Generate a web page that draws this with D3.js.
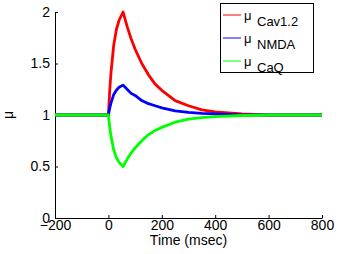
<!DOCTYPE html>
<html lang="en">
<head>
  <meta charset="UTF-8">
  <script src="https://d3js.org/d3.v7.min.js"></script>
  <style>
    body { margin: 0; background: white; }
    text { font-family: "Liberation Sans", Arial, sans-serif; }
    .axis path, .axis line { stroke: black; stroke-width: 1px; }
    .axis text { font-size: 14px; fill: black; }
  </style>
</head>
<body>
<div id="chart"></div>
<script>
  // time points (msec) and the three traces
  const times = [-200, 0, 5, 10, 20, 30, 40, 55, 70, 85, 100, 125, 150, 175, 200, 250, 300, 350, 400, 500, 600, 700, 800];
  const cav12 = [1, 1, 1.24, 1.42, 1.68, 1.83, 1.92, 2.0, 1.86, 1.74, 1.64, 1.50, 1.39, 1.30, 1.24, 1.14, 1.09, 1.05, 1.03, 1.01, 1.0, 1.0, 1.0];
  const nmda = [1, 1, 1.07, 1.12, 1.20, 1.24, 1.27, 1.29, 1.25, 1.21, 1.19, 1.14, 1.11, 1.09, 1.07, 1.04, 1.025, 1.015, 1.01, 1.0, 1.0, 1.0, 1.0];
  const caq = [1, 1, 0.88, 0.79, 0.66, 0.585, 0.54, 0.5, 0.57, 0.63, 0.68, 0.75, 0.81, 0.85, 0.88, 0.93, 0.96, 0.975, 0.985, 0.995, 1.0, 1.0, 1.0];

  const xTicks = [-200, 0, 200, 400, 600, 800];
  const yTicks = [0, 0.5, 1, 1.5, 2];

  const series = [
    { name: "Cav1.2", values: cav12, color: "#ff0000" },
    { name: "NMDA", values: nmda, color: "#0000ff" },
    { name: "CaQ", values: caq, color: "#00ff00" }
  ];

  const width = 340, height = 254;

  const svg = d3.select("#chart").append("svg")
    .attr("width", width)
    .attr("height", height);

  const x = d3.scaleLinear().domain([-200, 800]).range([55, 322]);
  const y = d3.scaleLinear().domain([0, 2]).range([218, 12]);

  // axes, ticks pointing inward
  svg.append("g")
    .attr("class", "axis")
    .attr("transform", `translate(0,${y(0)})`)
    .call(d3.axisBottom(x).tickValues(xTicks).tickSizeInner(-3).tickSizeOuter(0)
      .tickFormat(d => d < 0 ? "\u2212" + Math.abs(d) : d))
    .call(g => g.selectAll("text").attr("y", 2).attr("dy", "0.71em"));

  svg.append("g")
    .attr("class", "axis")
    .attr("transform", `translate(${x(-200)},0)`)
    .call(d3.axisLeft(y).tickValues(yTicks).tickSizeInner(-3).tickSizeOuter(0)
      .tickFormat(d => d))
    .call(g => g.selectAll("text").attr("x", -5));

  // axis labels
  svg.append("text")
    .attr("x", (x(-200) + x(800)) / 2)
    .attr("y", 245)
    .attr("text-anchor", "middle")
    .style("font-size", "14px")
    .text("Time (msec)");

  svg.append("text")
    .attr("transform", `translate(13,${y(1)}) rotate(-90)`)
    .attr("text-anchor", "middle")
    .style("font-size", "14px")
    .text("\u03bc");

  // traces
  const line = d3.line()
    .x((d, i) => x(times[i]))
    .y(d => y(d));

  svg.append("g").selectAll("path")
    .data(series)
    .enter()
    .append("path")
    .attr("d", d => line(d.values))
    .attr("fill", "none")
    .attr("stroke", d => d.color)
    .attr("stroke-width", 2.8)
    .attr("stroke-linejoin", "round");

  // legend
  const legend = svg.append("g");
  legend.append("rect")
    .attr("x", 220.5).attr("y", 3.5)
    .attr("width", 93).attr("height", 69)
    .attr("fill", "white")
    .attr("stroke", "black")
    .attr("stroke-width", 1);

  const item = legend.selectAll("g.item")
    .data(series)
    .enter()
    .append("g")
    .attr("class", "item")
    .attr("transform", (d, i) => `translate(0,${15 + i * 23})`);

  item.append("line")
    .attr("x1", 223).attr("x2", 241)
    .attr("y1", 0).attr("y2", 0)
    .attr("stroke", d => d.color)
    .attr("stroke-width", 1);

  item.append("text")
    .attr("x", 244).attr("y", 5)
    .style("font-size", "13px")
    .text("\u03bc");

  item.append("text")
    .attr("x", 257).attr("y", 11)
    .style("font-size", "13px")
    .text(d => d.name);
</script>
</body>
</html>
